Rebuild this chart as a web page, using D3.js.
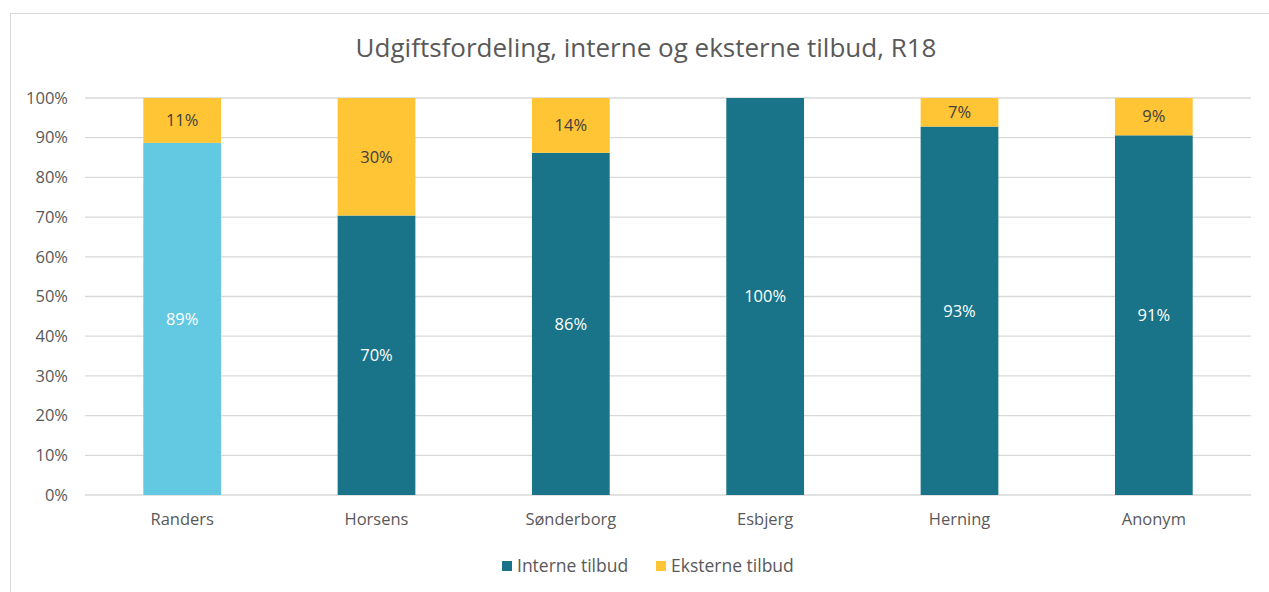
<!DOCTYPE html>
<html>
<head>
<meta charset="utf-8">
<script src="https://cdn.jsdelivr.net/npm/d3@7"></script>
<style>
  body { margin: 0; background: #fff; }
  text { font-family: "Open Sans", "DejaVu Sans", sans-serif; }
</style>
</head>
<body>
<svg width="1269" height="592"></svg>
<script>
const svg = d3.select("svg"),
	width = +svg.attr("width"),
	height = +svg.attr("height");

// Data
const categories = ["Randers", "Horsens", "Sønderborg", "Esbjerg", "Herning", "Anonym"]
const interne = [88.7, 70.4, 86.2, 100, 92.8, 90.6]
const eksterne = [11.3, 29.6, 13.8, 0, 7.2, 9.4]
const seriesNames = ["Interne tilbud", "Eksterne tilbud"]
const yTicks = [0, 10, 20, 30, 40, 50, 60, 70, 80, 90, 100]

const colInterne = "#1a7489", colRanders = "#63c9e3", colEksterne = "#ffc535"
const textGray = "#595959"
const fs = 16.5

const margin = { left: 85, right: 18, top: 98, bottom: 97 }

// outer frame
svg.append("rect")
	.attr("x", 10.5).attr("y", 13.5)
	.attr("width", width).attr("height", height)
	.attr("fill", "none")
	.attr("stroke", "#d9d9d9")

svg.append("text")
	.attr("x", 646).attr("y", 57)
	.attr("text-anchor", "middle")
	.attr("font-size", 26)
	.attr("fill", textGray)
	.text("Udgiftsfordeling, interne og eksterne tilbud, R18")

const x = d3.scaleBand()
	.domain(categories)
	.range([margin.left, width - margin.right])
	.paddingInner(0.6).paddingOuter(0.3)

const y = d3.scaleLinear()
	.domain([0, 100])
	.range([height - margin.bottom, margin.top])

// gridlines
svg.append("g")
	.selectAll("line")
	.data(yTicks)
	.join("line")
	.attr("x1", margin.left).attr("x2", width - margin.right)
	.attr("y1", d => y(d)).attr("y2", d => y(d))
	.attr("stroke", "#d9d9d9")
	.attr("stroke-width", 1.3)

// y axis labels
const yAxis = svg.append("g")
	.attr("transform", `translate(${margin.left - 14},0)`)
	.call(d3.axisLeft(y).tickValues(yTicks).tickFormat(d => d + "%").tickSize(0))
yAxis.select(".domain").remove()
yAxis.selectAll("text")
	.attr("font-size", fs)
	.attr("fill", textGray)
	.attr("font-family", "Open Sans, sans-serif")

// x axis labels
const xAxis = svg.append("g")
	.attr("transform", `translate(0,${height - margin.bottom + 15})`)
	.call(d3.axisBottom(x).tickSize(0))
xAxis.select(".domain").remove()
xAxis.selectAll("text")
	.attr("font-size", fs)
	.attr("fill", textGray)
	.attr("font-family", "Open Sans, sans-serif")

// bars
const rows = categories.map((c, i) => ({ cat: c, int: interne[i], ext: eksterne[i] }))

const bars = svg.append("g")
	.selectAll("g")
	.data(rows)
	.join("g")

bars.append("rect")
	.attr("x", d => x(d.cat))
	.attr("width", x.bandwidth())
	.attr("y", d => y(d.int))
	.attr("height", d => y(0) - y(d.int))
	.attr("fill", (d, i) => i === 0 ? colRanders : colInterne)

bars.append("rect")
	.attr("x", d => x(d.cat))
	.attr("width", x.bandwidth())
	.attr("y", d => y(d.int + d.ext))
	.attr("height", d => y(d.int) - y(d.int + d.ext))
	.attr("fill", colEksterne)

bars.append("text")
	.attr("x", d => x(d.cat) + x.bandwidth() / 2)
	.attr("y", d => y(d.int / 2))
	.attr("dy", "0.35em")
	.attr("text-anchor", "middle")
	.attr("font-size", fs)
	.attr("fill", "#fff")
	.text(d => Math.round(d.int) + "%")

bars.filter(d => d.ext > 0)
	.append("text")
	.attr("x", d => x(d.cat) + x.bandwidth() / 2)
	.attr("y", d => y(d.int + d.ext / 2))
	.attr("dy", "0.35em")
	.attr("text-anchor", "middle")
	.attr("font-size", fs)
	.attr("fill", "#404040")
	.text(d => Math.round(d.ext) + "%")

// legend
const legend = svg.append("g").attr("class", "legend")
const legendX = [502, 656]
const legendCol = [colInterne, colEksterne]
seriesNames.forEach((name, i) => {
	legend.append("rect")
		.attr("x", legendX[i]).attr("y", 561)
		.attr("width", 10).attr("height", 10)
		.attr("fill", legendCol[i])
	legend.append("text")
		.attr("x", legendX[i] + 15).attr("y", 566)
		.attr("dy", "0.35em")
		.attr("font-size", 17.5)
		.attr("fill", textGray)
		.text(name)
})
</script>
</body>
</html>
